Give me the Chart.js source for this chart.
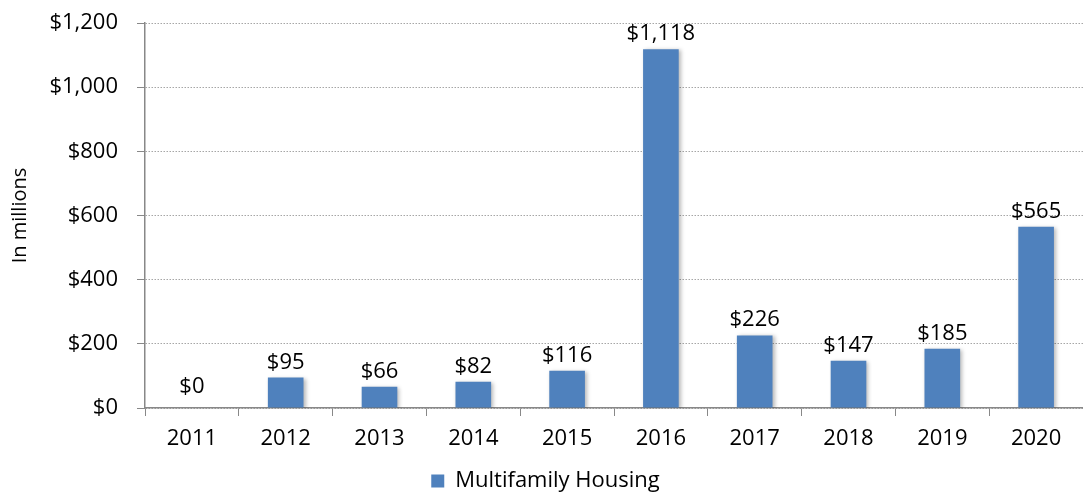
<!DOCTYPE html>
<html>
<head>
<meta charset="utf-8">
<script src="https://cdn.jsdelivr.net/npm/chart.js@4"></script>
<style>
  html, body { margin: 0; padding: 0; background: #fff; }
  #wrap { width: 1083px; height: 495px; }
</style>
</head>
<body>
<div id="wrap"><canvas id="chart"></canvas></div>
<script>
const years = ['2011','2012','2013','2014','2015','2016','2017','2018','2019','2020']
const housing = [0, 95, 66, 82, 116, 1118, 226, 147, 185, 565]
const seriesName = 'Multifamily Housing'
const yTitle = 'In millions'

Chart.defaults.font.family = '"Open Sans", sans-serif'
Chart.defaults.font.size = 22
Chart.defaults.color = '#000'

const money = v => '$' + v.toLocaleString('en-US')

// labels above bars
const barLabels = {
  id: 'barLabels',
  afterDatasetsDraw(chart) {
    const ctx = chart.ctx
    const meta = chart.getDatasetMeta(0)
    ctx.save()
    ctx.font = '22px "Open Sans", sans-serif'
    ctx.fillStyle = '#000'
    ctx.textAlign = 'center'
    ctx.textBaseline = 'alphabetic'
    meta.data.forEach((bar, i) => {
      const v = chart.data.datasets[0].data[i]
      const off = v === 0 ? 15 : 9
      ctx.fillText(money(v), bar.x, bar.y - off)
    })
    ctx.restore()
  }
}

// soft shadow like the office chart
const barShadow = {
  id: 'barShadow',
  beforeDatasetsDraw(chart) {
    const ctx = chart.ctx
    ctx.save()
    ctx.shadowColor = 'rgba(0,0,0,0.28)'
    ctx.shadowBlur = 4
    ctx.shadowOffsetX = 2
    ctx.shadowOffsetY = 1
  },
  afterDatasetsDraw(chart) {
    chart.ctx.restore()
  }
}

new Chart(document.getElementById('chart'), {
  type: 'bar',
  data: {
    labels: years,
    datasets: [{
      label: seriesName,
      data: housing,
      backgroundColor: '#4F81BD',
      borderWidth: 0,
      barPercentage: 0.38,
      categoryPercentage: 1
    }]
  },
  options: {
    responsive: true,
    maintainAspectRatio: false,
    animation: false,
    layout: { padding: { top: 23, right: -8, bottom: -7, left: 0 } },
    plugins: {
      legend: {
        position: 'bottom',
        labels: { boxWidth: 13, boxHeight: 13, padding: 4, color: '#000' }
      },
      tooltip: { enabled: false }
    },
    scales: {
      x: {
        offset: true,
        grid: {
          offset: true,
          drawOnChartArea: false,
          drawTicks: true,
          tickLength: 8,
          tickColor: '#888'
        },
        border: { color: '#888', width: 1.5 },
        ticks: { padding: 10, color: '#000' },
        afterFit(scale) { scale.height = 58 }
      },
      y: {
        min: 0,
        max: 1200,
        ticks: {
          stepSize: 200,
          padding: 19,
          color: '#000',
          callback: v => money(v)
        },
        grid: {
          color: '#a6a6a6',
          tickColor: '#888',
          tickLength: 8,
          lineWidth: 1
        },
        border: { color: '#888', width: 1.5, dash: [1.5, 1.5] },
        title: {
          display: true,
          text: yTitle,
          color: '#000',
          font: { size: 20 },
          padding: { top: 8, bottom: 0 }
        },
        afterFit(scale) {
          scale.width = 145
          scale.paddingTop = 0
          scale.paddingBottom = 0
        }
      }
    }
  },
  plugins: [barShadow, barLabels]
});
</script>
</body>
</html>
